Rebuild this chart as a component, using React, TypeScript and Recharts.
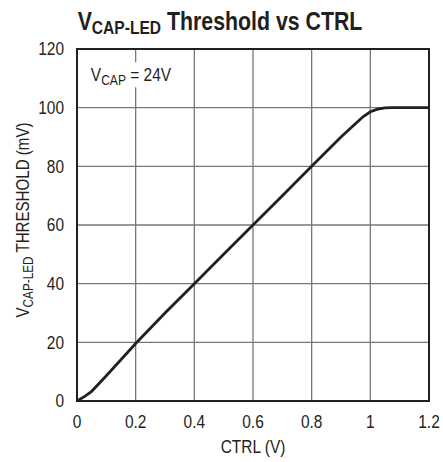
import { CartesianGrid, Line, LineChart, ReferenceArea, XAxis, YAxis } from "recharts";

// CTRL (V) vs V(CAP-LED) threshold (mV)
const ctrlVolts = [0, 0.025, 0.05, 0.1, 0.2, 0.3, 0.4, 0.5, 0.6, 0.7, 0.8, 0.9, 0.95, 0.975, 1.0, 1.025, 1.05, 1.075, 1.1, 1.2];
const thresholdMv = [0, 1.5, 3.3, 8.6, 19.6, 30, 40, 50, 60, 70, 80, 90, 94.6, 96.9, 98.6, 99.5, 99.9, 100, 100, 100];
const xTicks = [0, 0.2, 0.4, 0.6, 0.8, 1, 1.2];
const yTicks = [0, 20, 40, 60, 80, 100, 120];

const data = ctrlVolts.map((x, i) => ({ x, y: thresholdMv[i] }));

const FONT = "'Liberation Sans', Arial, sans-serif";
const INK = "#231f20";
const SQUEEZE = 0.86; // no condensed face installed, so squeeze horizontally

const XTick = (props: any) => {
  const { x, y, payload } = props;
  return (
    <text
      transform={`translate(${x},${y + 12}) scale(${SQUEEZE},1)`}
      textAnchor="middle"
      dy="0.71em"
      fontFamily={FONT}
      fontSize={18}
      fill={INK}
    >
      {String(payload.value)}
    </text>
  );
};

const YTick = (props: any) => {
  const { x, y, payload } = props;
  return (
    <text
      transform={`translate(${x - 11},${y}) scale(${SQUEEZE},1)`}
      textAnchor="end"
      dy="0.355em"
      fontFamily={FONT}
      fontSize={18}
      fill={INK}
    >
      {String(payload.value)}
    </text>
  );
};

const Annotation = (props: any) => {
  const { viewBox } = props;
  return (
    <text
      transform={`translate(${viewBox.x + 8},${viewBox.y + 19}) scale(${SQUEEZE},1)`}
      fontFamily={FONT}
      fontSize={18}
      fill={INK}
    >
      V<tspan fontSize={14} dy={4}>CAP</tspan>
      <tspan dy={-4}> = 24V</tspan>
    </text>
  );
};

export default function App() {
  return (
    <div style={{ position: "absolute", left: 0, top: 0, width: 443, height: 462, background: "#fff" }}>
      <LineChart width={443} height={462} data={data} margin={{ top: 49, right: 14, bottom: 0, left: 0 }}>
        <CartesianGrid stroke="#777" strokeWidth={1.3} />
        <XAxis
          dataKey="x"
          type="number"
          domain={[0, 1.2]}
          ticks={xTicks}
          height={61}
          axisLine={false}
          tickLine={false}
          tickSize={0}
          tick={<XTick />}
        />
        <YAxis
          type="number"
          domain={[0, 120]}
          ticks={yTicks}
          width={77}
          axisLine={false}
          tickLine={false}
          tickSize={0}
          tick={<YTick />}
        />
        <ReferenceArea x1={0} x2={1.2} y1={0} y2={120} fill="none" stroke={INK} strokeWidth={2} />
        <ReferenceArea
          x1={0.02}
          x2={0.32}
          y1={107}
          y2={115.5}
          fill="#fff"
          fillOpacity={1}
          stroke="none"
          label={<Annotation />}
        />
        <Line
          dataKey="y"
          type="linear"
          stroke={INK}
          strokeWidth={2.8}
          dot={false}
          isAnimationActive={false}
        />
        <text
          transform={`translate(220,30) scale(0.82,1)`}
          textAnchor="middle"
          fontFamily={FONT}
          fontWeight="bold"
          fontSize={26}
          fill={INK}
        >
          V<tspan fontSize={19} dy={4}>CAP-LED</tspan>
          <tspan dy={-4}> Threshold vs CTRL</tspan>
        </text>
        <text
          transform={`translate(253,453) scale(${SQUEEZE},1)`}
          textAnchor="middle"
          fontFamily={FONT}
          fontSize={18}
          fill={INK}
        >
          CTRL (V)
        </text>
        <text
          transform="translate(29,220) rotate(-90) scale(0.84,1)"
          textAnchor="middle"
          fontFamily={FONT}
          fontSize={18}
          fill={INK}
        >
          V<tspan fontSize={14} dy={4}>CAP-LED</tspan>
          <tspan dy={-4}> THRESHOLD (mV)</tspan>
        </text>
      </LineChart>
    </div>
  );
}
